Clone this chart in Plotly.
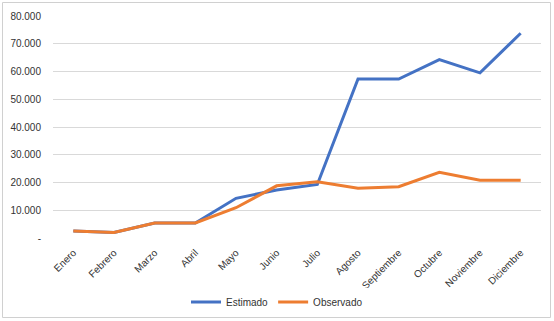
import plotly.graph_objects as go

meses = ["Enero", "Febrero", "Marzo", "Abril", "Mayo", "Junio", "Julio",
         "Agosto", "Septiembre", "Octubre", "Noviembre", "Diciembre"]
estimado = [2500, 2000, 5400, 5400, 14300, 17300, 19300, 57300, 57300, 64300, 59500, 73800]
observado = [2500, 2000, 5400, 5400, 10900, 18800, 20250, 17900, 18500, 23700, 20800, 20800]
y_ticks = [0, 10000, 20000, 30000, 40000, 50000, 60000, 70000, 80000]
y_ticktext = ["-", "10.000", "20.000", "30.000", "40.000", "50.000", "60.000", "70.000", "80.000"]

W, H = 554, 321
L, R, T, B = 53, 13, 16, 83
pw, ph = W - L - R, H - T - B

def px_x(p):
    return (p - L) / pw

def px_y(p):
    return (H - B - p) / ph

fig = go.Figure()
fig.add_trace(go.Scatter(x=meses, y=estimado, mode="lines", name="Estimado",
                         line=dict(color="#4472C4", width=3)))
fig.add_trace(go.Scatter(x=meses, y=observado, mode="lines", name="Observado",
                         line=dict(color="#ED7D31", width=3)))

fig.update_layout(
    width=W, height=H,
    margin=dict(l=L, r=R, t=T, b=B, autoexpand=False),
    paper_bgcolor="white", plot_bgcolor="white",
    font=dict(family="Liberation Sans, Arial, sans-serif", size=10, color="#333333"),
    showlegend=True,
    legend=dict(orientation="h", xref="container", x=0.5, xanchor="center",
                y=px_y(302), yanchor="middle",
                font=dict(size=10, color="#333333"), itemwidth=30),
    xaxis=dict(type="category", range=[-0.5, len(meses) - 0.5], automargin=False,
               tickangle=-45, showgrid=False, showline=False,
               zeroline=False, ticks="outside", ticklen=4, tickcolor="rgba(0,0,0,0)",
               tickfont=dict(size=10, color="#333333")),
    yaxis=dict(range=[0, 80000], tickvals=y_ticks, ticktext=y_ticktext, automargin=False,
               showgrid=True, gridcolor="#d9d9d9", gridwidth=1, zeroline=False,
               showline=False, ticks="outside", ticklen=9, tickcolor="rgba(0,0,0,0)",
               tickfont=dict(size=10, color="#333333")),
    shapes=[dict(type="rect", xref="paper", yref="paper",
                 x0=px_x(2.5), x1=px_x(550.5), y0=px_y(317.5), y1=px_y(2.5),
                 line=dict(color="#d0d0d0", width=1), layer="below")],
)

fig.write_html("out.html", config={"displayModeBar": False},
               post_script="document.body.style.margin='0';document.body.style.overflow='hidden';")
